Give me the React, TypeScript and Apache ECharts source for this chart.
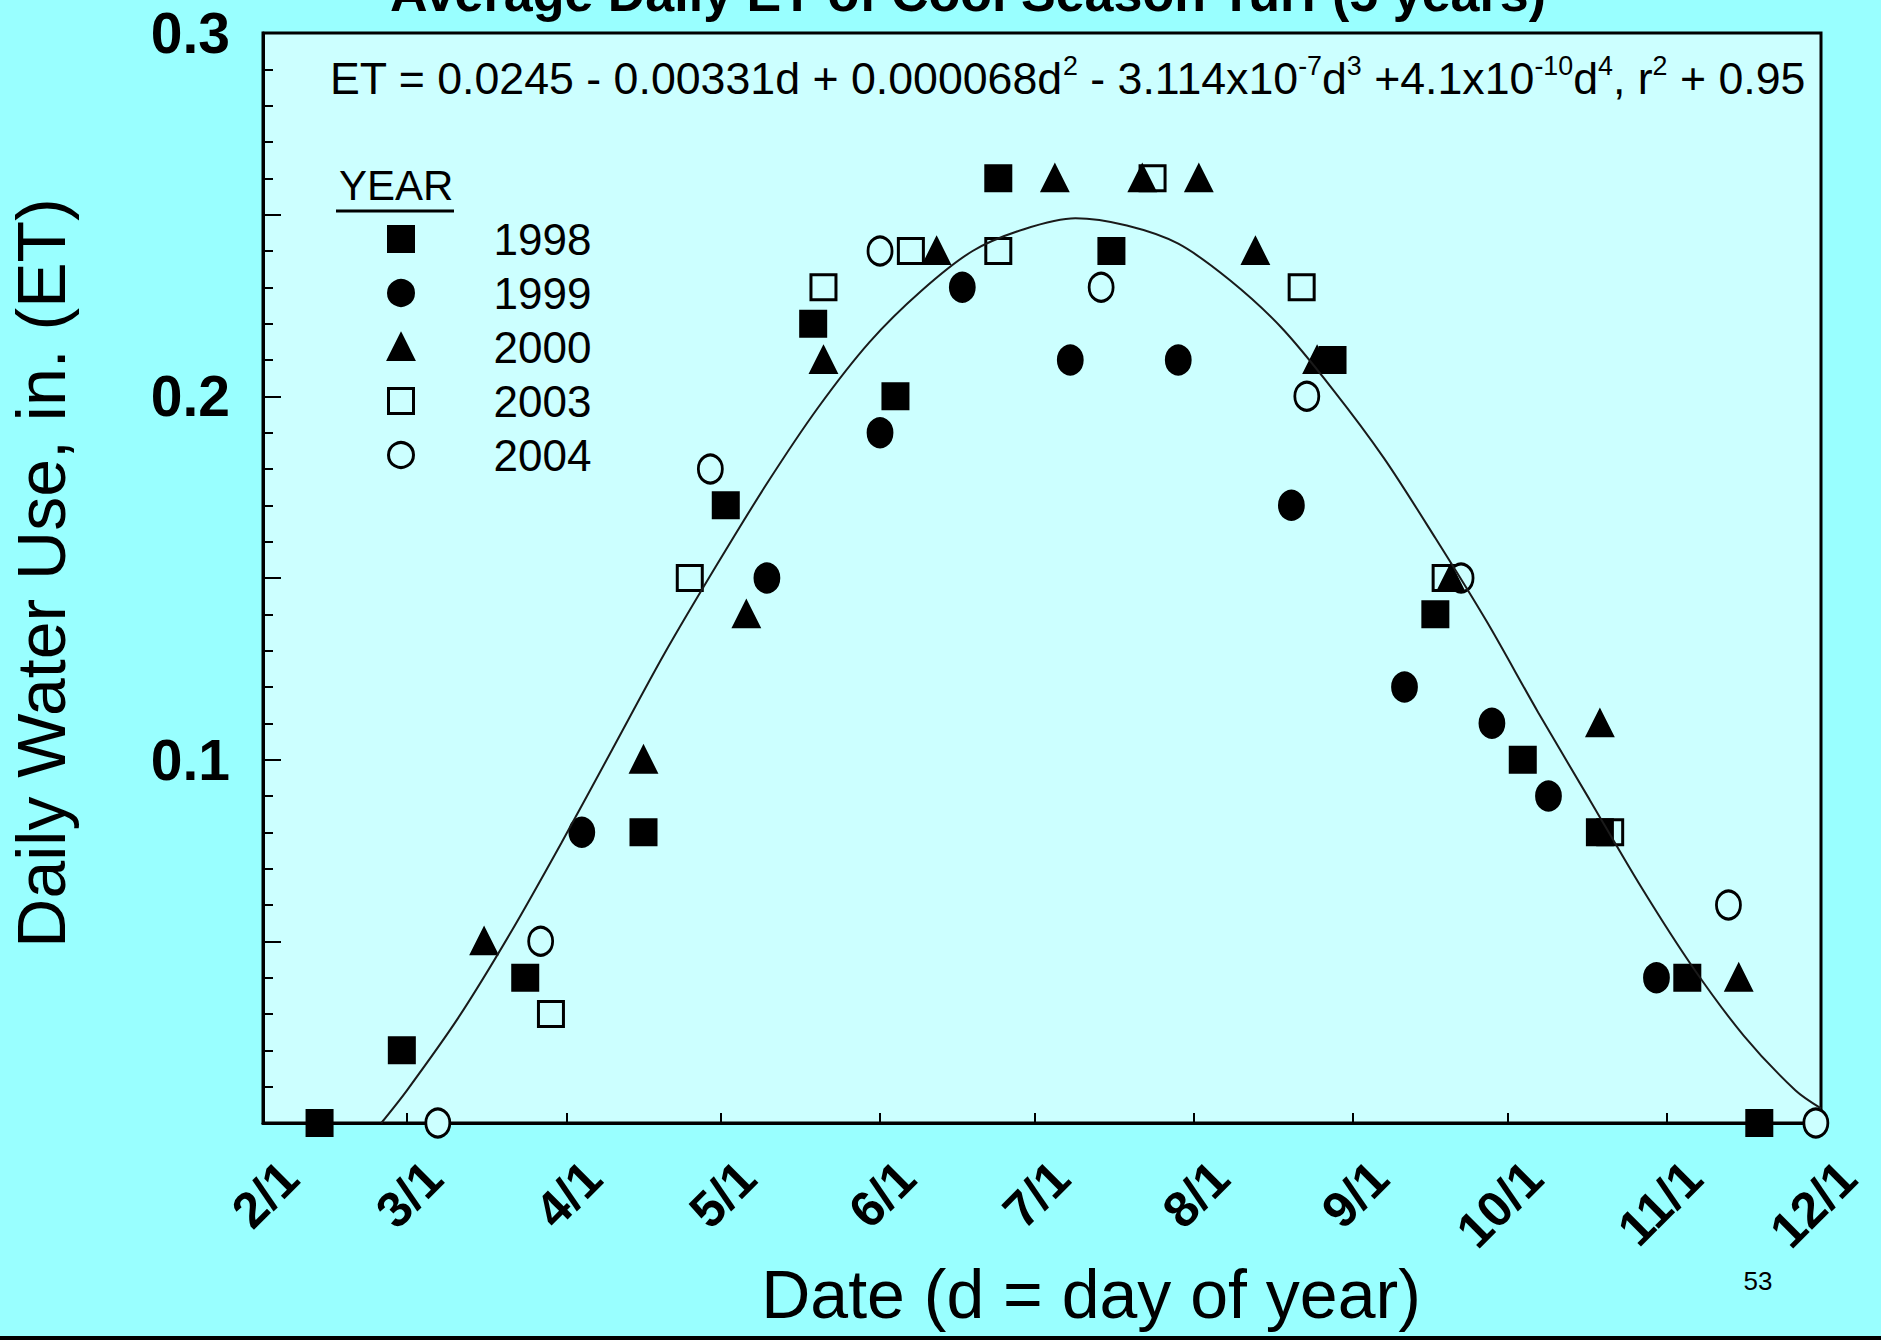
import React, { useEffect, useRef } from 'react';
import * as echarts from 'echarts';

// ---- data (day of year, daily ET in inches) ----
const DAY_MS = 86400000;
const YEAR_START = Date.UTC(2001, 0, 1);
const toTime = (doy: number) => YEAR_START + (doy - 1) * DAY_MS;

const X_MIN_DAY = 32; // 2/1
const X_MAX_DAY = 335; // 12/1

const seriesNames = ['1998', '1999', '2000', '2003', '2004'];

const days1998 = [43, 59, 83, 106, 122, 139, 155, 175, 197, 240, 260, 277, 292, 309, 323];
const et1998 = [0, 0.02, 0.04, 0.08, 0.17, 0.22, 0.2, 0.26, 0.24, 0.21, 0.14, 0.1, 0.08, 0.04, 0];

const days1999 = [94, 130, 152, 168, 189, 210, 232, 254, 271, 282, 303];
const et1999 = [0.08, 0.15, 0.19, 0.23, 0.21, 0.21, 0.17, 0.12, 0.11, 0.09, 0.04];

const days2000 = [75, 106, 126, 141, 163, 186, 203, 214, 225, 237, 263, 292, 319];
const et2000 = [0.05, 0.1, 0.14, 0.21, 0.24, 0.26, 0.26, 0.26, 0.24, 0.21, 0.15, 0.11, 0.04];

const days2003 = [88, 115, 141, 158, 175, 205, 234, 262, 294];
const et2003 = [0.03, 0.15, 0.23, 0.24, 0.24, 0.26, 0.23, 0.15, 0.08];

const days2004 = [66, 86, 119, 152, 195, 235, 265, 317, 334];
const et2004 = [0, 0.05, 0.18, 0.24, 0.23, 0.2, 0.15, 0.06, 0];

// fitted curve
const curveDays = [55, 60, 70, 80, 90, 100, 110, 120, 130, 140, 150, 160, 170, 180, 190, 200, 210, 220, 230, 240, 250, 260, 270, 280, 290, 300, 310, 320, 330, 335];
const curveEt = [0.0, 0.009, 0.029, 0.052, 0.077, 0.103, 0.129, 0.153, 0.176, 0.197, 0.215, 0.229, 0.24, 0.246, 0.249, 0.247, 0.242, 0.232, 0.219, 0.202, 0.183, 0.161, 0.138, 0.113, 0.089, 0.065, 0.043, 0.024, 0.009, 0.004];

const FONT = "'Liberation Sans', Arial, Helvetica, sans-serif";
const PAGE_BG = '#99FFFF';
const PLOT_BG = '#CCFFFF';

const pair = (days: number[], vals: number[]) => days.map((d, i) => [toTime(d), vals[i]]);

export default function App() {
  const ref = useRef<HTMLDivElement>(null);

  useEffect(() => {
    if (!ref.current) return;
    const chart = echarts.init(ref.current, null, { renderer: 'svg' });

    const scatterBase = (name: string, data: number[][], symbol: string, size: any, fill: string) => ({
      name,
      type: 'scatter',
      data,
      symbol,
      symbolSize: size,
      itemStyle: { color: fill, borderColor: '#000', borderWidth: 3, opacity: 1 },
      emphasis: { disabled: true },
      silent: true,
    });

    const option: any = {
      animation: false,
      useUTC: true,
      backgroundColor: PAGE_BG,
      textStyle: { fontFamily: FONT },
      grid: {
        left: 263,
        top: 33,
        width: 1558,
        height: 1090,
        show: true,
        backgroundColor: PLOT_BG,
        borderColor: '#000',
        borderWidth: 3,
        containLabel: false,
        outerBoundsMode: 'none',
      },
      legend: {
        data: seriesNames,
        orient: 'vertical',
        left: 387,
        top: 217,
        padding: 0,
        itemWidth: 25,
        itemHeight: 25,
        itemGap: 10,
        selectedMode: false,
        itemStyle: { borderWidth: 3, borderColor: '#000' },
        textStyle: {
          fontSize: 44,
          color: '#000',
          fontFamily: FONT,
          lineHeight: 25,
          padding: [0, 0, 0, 75],
        },
      },
      xAxis: {
        type: 'time',
        min: toTime(X_MIN_DAY),
        max: toTime(X_MAX_DAY),
        splitNumber: 10,
        minInterval: 32 * DAY_MS,
        axisLine: { show: true, lineStyle: { color: '#000', width: 3 } },
        axisTick: { show: true, inside: true, length: 10, lineStyle: { color: '#000', width: 2 } },
        splitLine: { show: false },
        axisLabel: {
          rotate: 45,
          margin: 20,
          padding: [76, 0, 0, 0],
          fontSize: 50,
          fontWeight: 'bold',
          color: '#000',
          fontFamily: FONT,
          showMinLabel: true,
          showMaxLabel: true,
          hideOverlap: false,
          formatter: (v: number) => {
            const dt = new Date(v);
            return dt.getUTCMonth() + 1 + '/' + dt.getUTCDate();
          },
        },
        name: 'Date (d = day of year)',
        nameLocation: 'middle',
        nameGap: 137,
        nameMoveOverlap: false,
        nameTextStyle: { fontSize: 68, color: '#000', fontFamily: FONT, padding: [0, 0, 0, 98] },
      },
      yAxis: {
        type: 'value',
        min: 0,
        max: 0.3,
        interval: 0.05,
        axisLine: { show: true, lineStyle: { color: '#000', width: 3 } },
        axisTick: { show: true, inside: true, length: 18, lineStyle: { color: '#000', width: 2 } },
        minorTick: { show: true, splitNumber: 5, length: 10, lineStyle: { color: '#000', width: 2 } },
        splitLine: { show: false },
        minorSplitLine: { show: false },
        axisLabel: {
          fontSize: 57,
          fontWeight: 'bold',
          color: '#000',
          fontFamily: FONT,
          margin: 33,
          formatter: (v: number) => {
            const r = Math.round(v * 100);
            return r > 0 && r % 10 === 0 ? (r / 100).toFixed(1) : '';
          },
        },
        name: 'Daily Water Use, in. (ET)',
        nameLocation: 'middle',
        nameRotate: 90,
        nameGap: 188,
        nameMoveOverlap: false,
        nameTextStyle: { fontSize: 68, color: '#000', fontFamily: FONT, padding: [0, 0, 0, 10] },
      },
      series: [
        scatterBase('2003', pair(days2003, et2003), 'rect', 25, PLOT_BG),
        scatterBase('2004', pair(days2004, et2004), 'circle', [24, 28], PLOT_BG),
        scatterBase('1998', pair(days1998, et1998), 'rect', 25, '#000'),
        scatterBase('1999', pair(days1999, et1999), 'circle', [24, 28], '#000'),
        scatterBase('2000', pair(days2000, et2000), 'triangle', 25, '#000'),
        {
          name: 'fit',
          type: 'line',
          data: pair(curveDays, curveEt),
          smooth: 0.3,
          showSymbol: false,
          symbol: 'none',
          lineStyle: { color: '#1a1a1a', width: 2 },
          z: 5,
          silent: true,
          emphasis: { disabled: true },
        },
      ],
      graphic: [
        {
          type: 'text',
          x: 968,
          y: -7,
          style: {
            text: 'Average Daily ET of Cool Season Turf (5 years)',
            font: `bold 52px ${FONT}`,
            fill: '#000',
            textAlign: 'center',
            textVerticalAlign: 'middle',
          },
        },
        {
          type: 'text',
          x: 330,
          y: 78,
          style: {
            text:
              '{n|ET = 0.0245 - 0.00331d + 0.000068d}{s|2}{n| - 3.114x10}{s|-7}{n|d}{s|3}{n| +4.1x10}{s|-10}{n|d}{s|4}{n|, r}{s|2}{n| + 0.95}',
            textAlign: 'left',
            textVerticalAlign: 'middle',
            fill: '#000',
            rich: {
              n: { fontSize: 44.7, fontFamily: FONT, lineHeight: 52, fill: '#000', color: '#000' },
              s: { fontSize: 26.8, fontFamily: FONT, lineHeight: 26, verticalAlign: 'top', fill: '#000', color: '#000' },
            },
          },
        },
        {
          type: 'text',
          x: 339,
          y: 185,
          style: {
            text: 'YEAR',
            font: `42px ${FONT}`,
            fill: '#000',
            textAlign: 'left',
            textVerticalAlign: 'middle',
          },
        },
        {
          type: 'line',
          shape: { x1: 336, y1: 211, x2: 454, y2: 211 },
          style: { stroke: '#000', lineWidth: 3 },
        },
        {
          type: 'text',
          x: 1758,
          y: 1281,
          style: {
            text: '53',
            font: `26px ${FONT}`,
            fill: '#000',
            textAlign: 'center',
            textVerticalAlign: 'middle',
          },
        },
        {
          type: 'rect',
          shape: { x: 0, y: 1336, width: 1881, height: 4 },
          style: { fill: '#000' },
        },
      ],
    };

    chart.setOption(option);
    return () => chart.dispose();
  }, []);

  return (
    <div
      ref={ref}
      style={{ position: 'absolute', left: 0, top: 0, width: 1881, height: 1340 }}
    />
  );
}
